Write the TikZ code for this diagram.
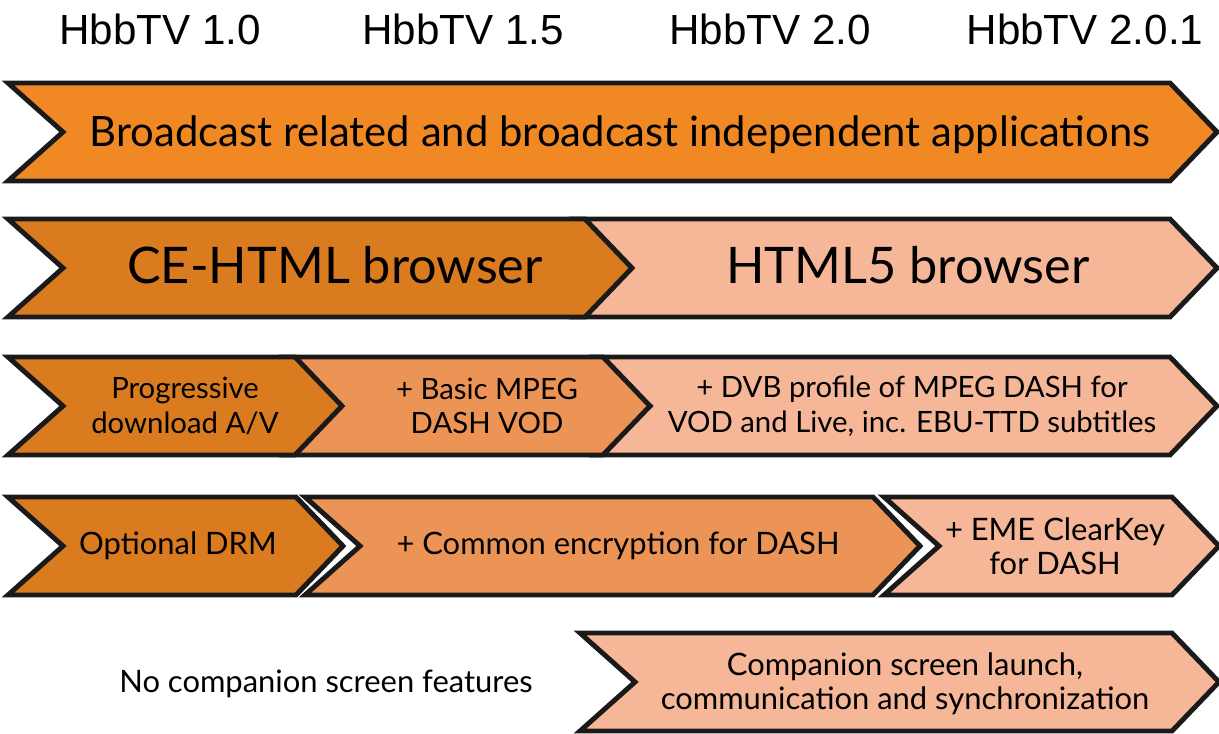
\documentclass[tikz,border=0pt]{standalone}
\usepackage{fontspec}
\setmainfont{Lato}
\newfontfamily\headfont{Liberation Sans}
\usepackage{tikz}

\definecolor{appsorange}{HTML}{F08923}
\definecolor{ceorange}{HTML}{D97B1E}
\definecolor{midorange}{HTML}{EC9456}
\definecolor{paleorange}{HTML}{F5B797}
\definecolor{bandline}{HTML}{1A1A1A}

\tikzset{
	band/.style={draw=bandline,line width=2.8pt,line join=miter},
	version/.style={font=\headfont\fontsize{24}{28}\selectfont,inner sep=0pt},
	bigtext/.style={font=\fontsize{23.8}{28}\selectfont,inner sep=0pt,anchor=base},
	hugetext/.style={font=\fontsize{28.7}{32}\selectfont,inner sep=0pt,anchor=base},
	smalltext/.style={font=\fontsize{16.7}{19.8}\selectfont,inner sep=0pt,align=center},
	lowtext/.style={font=\fontsize{17.6}{19.4}\selectfont,inner sep=0pt,align=center}
}

% left x, right x, top y, fill colour
\newcommand{\arrowband}[4]{%
	\draw[band,fill=#4] (#1,#3) -- (#2,#3) -- ++(47,49) -- ++(-47,49) -- (#1,#3+98) -- ++(55,-49) -- cycle;}

\begin{document}
\begin{tikzpicture}[x=0.02cm,y=-0.02cm]
		\useasboundingbox (0,0) rectangle (1219,733);

		\node[version] (v10) at (160,29) {HbbTV 1.0};
		\node[version] (v15) at (463,29) {HbbTV 1.5};
		\node[version] (v20) at (770,29) {HbbTV 2.0};
		\node[version] (v201) at (1085,29) {HbbTV 2.0.1};

		\arrowband{8}{1170}{83}{appsorange}
		\node[bigtext] (apps) at (620,147) {Broadcast related and broadcast independent applications};

		\arrowband{575}{1170}{219}{paleorange}
		\arrowband{8}{585}{219}{ceorange}
		\node[hugetext] (cehtml) at (335,283) {CE-HTML browser};
		\node[hugetext] (html5) at (908,283) {HTML5 browser};

		\arrowband{595}{1170}{357}{paleorange}
		\arrowband{285}{603}{357}{midorange}
		\arrowband{8}{295}{357}{ceorange}
		\node[smalltext] (progdl) at (185,406) {Progressive\\download A/V};
		\node[smalltext] (basicdash) at (487,406) {+ Basic MPEG\\DASH VOD};
		\node[smalltext] (dvbdash) at (912,406) {+ DVB profile of MPEG DASH for\\VOD and Live, inc. EBU-TTD subtitles};

		\arrowband{8}{296}{497}{ceorange}
		\arrowband{305}{873}{497}{midorange}
		\arrowband{884}{1172}{497}{paleorange}
		\node[lowtext] (drm) at (178,546) {Optional DRM};
		\node[lowtext] (cenc) at (618,546) {+ Common encryption for DASH};
		\node[lowtext] (eme) at (1055,546) {+ EME ClearKey\\for DASH};

		\node[lowtext] (nocompanion) at (326,684) {No companion screen features};
		\arrowband{580}{1172}{633}{paleorange}
		\node[lowtext] (companion) at (905,684) {Companion screen launch,\\communication and synchronization};

	\end{tikzpicture}
\end{document}
